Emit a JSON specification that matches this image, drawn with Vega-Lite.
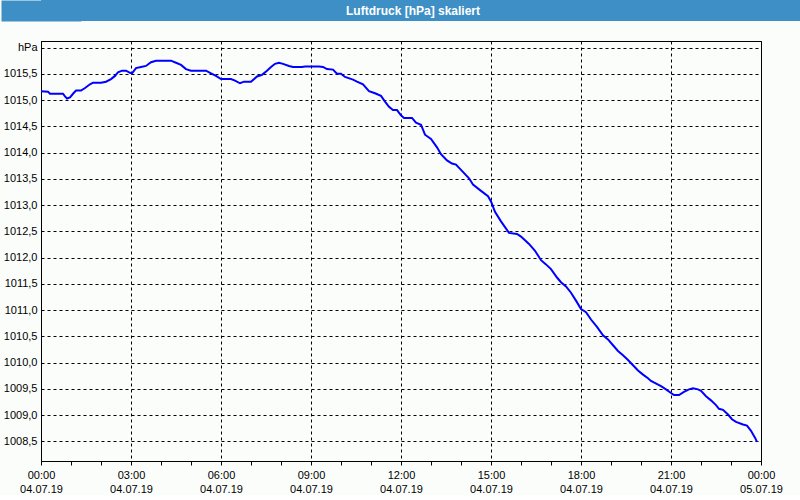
{
  "$schema": "https://vega.github.io/schema/vega-lite/v6.json",
  "background": "#fbfdfb",
  "padding": 0,
  "columns": 1,
  "align": "none",
  "spacing": 19,
  "config": {
    "font": "Liberation Sans",
    "view": {"stroke": null}
  },
  "concat": [
    {
      "width": 760,
      "height": 21,
      "data": {"values": [{"label": "Luftdruck [hPa] skaliert"}]},
      "layer": [
        {"mark": {"type": "rect", "color": "#3d8fc6"}, "encoding": {}},
        {
          "mark": {"type": "text", "color": "white", "fontWeight": "bold", "fontSize": 12, "baseline": "middle", "align": "center", "dx": -8},
          "encoding": {
            "text": {"field": "label", "type": "nominal"},
            "y": {
              "datum": 0.5, "type": "quantitative",
              "scale": {"domain": [0, 1], "nice": false, "zero": false},
              "axis": {"title": null, "labels": false, "ticks": false, "grid": false, "domainColor": "#3d8fc6", "domainWidth": 80, "minExtent": 40, "maxExtent": 40}
            }
          }
        }
      ]
    },
    {
      "width": 720,
      "height": 420,
      "view": {"stroke": "black", "strokeWidth": 1},
      "data": {"values": [
        {"h": 0, "p": 1015.17}, {"h": 0.233, "p": 1015.16}, {"h": 0.3, "p": 1015.12}, {"h": 0.733, "p": 1015.12},
        {"h": 0.8, "p": 1015.07}, {"h": 0.867, "p": 1015.03}, {"h": 0.967, "p": 1015.05}, {"h": 1.067, "p": 1015.12},
        {"h": 1.167, "p": 1015.18}, {"h": 1.333, "p": 1015.18}, {"h": 1.467, "p": 1015.23}, {"h": 1.633, "p": 1015.30},
        {"h": 1.733, "p": 1015.33}, {"h": 2, "p": 1015.33}, {"h": 2.167, "p": 1015.35}, {"h": 2.333, "p": 1015.40},
        {"h": 2.467, "p": 1015.46}, {"h": 2.567, "p": 1015.53}, {"h": 2.7, "p": 1015.56}, {"h": 2.833, "p": 1015.56},
        {"h": 2.967, "p": 1015.52}, {"h": 3.033, "p": 1015.51}, {"h": 3.167, "p": 1015.61}, {"h": 3.333, "p": 1015.63},
        {"h": 3.5, "p": 1015.65}, {"h": 3.667, "p": 1015.72}, {"h": 3.833, "p": 1015.75}, {"h": 4.333, "p": 1015.75},
        {"h": 4.5, "p": 1015.71}, {"h": 4.667, "p": 1015.67}, {"h": 4.833, "p": 1015.59}, {"h": 5, "p": 1015.56},
        {"h": 5.5, "p": 1015.56}, {"h": 5.667, "p": 1015.51}, {"h": 5.833, "p": 1015.46}, {"h": 6, "p": 1015.40},
        {"h": 6.333, "p": 1015.40}, {"h": 6.467, "p": 1015.37}, {"h": 6.633, "p": 1015.32}, {"h": 6.767, "p": 1015.35},
        {"h": 7, "p": 1015.35}, {"h": 7.2, "p": 1015.45}, {"h": 7.367, "p": 1015.48}, {"h": 7.533, "p": 1015.56},
        {"h": 7.667, "p": 1015.63}, {"h": 7.8, "p": 1015.69}, {"h": 7.933, "p": 1015.71}, {"h": 8.067, "p": 1015.69},
        {"h": 8.267, "p": 1015.65}, {"h": 8.4, "p": 1015.63}, {"h": 8.7, "p": 1015.63}, {"h": 8.8, "p": 1015.64},
        {"h": 9.267, "p": 1015.64}, {"h": 9.4, "p": 1015.63}, {"h": 9.533, "p": 1015.59}, {"h": 9.733, "p": 1015.58},
        {"h": 9.867, "p": 1015.50}, {"h": 10, "p": 1015.50}, {"h": 10.133, "p": 1015.44}, {"h": 10.4, "p": 1015.39},
        {"h": 10.533, "p": 1015.35}, {"h": 10.733, "p": 1015.30}, {"h": 10.933, "p": 1015.17}, {"h": 11.133, "p": 1015.13},
        {"h": 11.333, "p": 1015.08}, {"h": 11.467, "p": 1014.97}, {"h": 11.6, "p": 1014.87}, {"h": 11.733, "p": 1014.81},
        {"h": 11.867, "p": 1014.81}, {"h": 12, "p": 1014.71}, {"h": 12.1, "p": 1014.66}, {"h": 12.367, "p": 1014.66},
        {"h": 12.5, "p": 1014.57}, {"h": 12.667, "p": 1014.53}, {"h": 12.8, "p": 1014.34}, {"h": 13, "p": 1014.26},
        {"h": 13.2, "p": 1014.10}, {"h": 13.333, "p": 1013.97}, {"h": 13.533, "p": 1013.85}, {"h": 13.7, "p": 1013.79},
        {"h": 13.833, "p": 1013.77}, {"h": 14, "p": 1013.67}, {"h": 14.267, "p": 1013.51}, {"h": 14.4, "p": 1013.39},
        {"h": 14.667, "p": 1013.27}, {"h": 14.9, "p": 1013.17}, {"h": 15, "p": 1013.07}, {"h": 15.133, "p": 1012.87},
        {"h": 15.333, "p": 1012.69}, {"h": 15.6, "p": 1012.47}, {"h": 15.867, "p": 1012.45}, {"h": 16, "p": 1012.40},
        {"h": 16.267, "p": 1012.26}, {"h": 16.467, "p": 1012.13}, {"h": 16.667, "p": 1011.95}, {"h": 16.833, "p": 1011.87},
        {"h": 17, "p": 1011.78}, {"h": 17.2, "p": 1011.62}, {"h": 17.333, "p": 1011.53}, {"h": 17.5, "p": 1011.45},
        {"h": 17.667, "p": 1011.33}, {"h": 17.833, "p": 1011.18}, {"h": 18, "p": 1011.02}, {"h": 18.167, "p": 1010.96},
        {"h": 18.333, "p": 1010.82}, {"h": 18.533, "p": 1010.68}, {"h": 18.733, "p": 1010.52}, {"h": 18.9, "p": 1010.44},
        {"h": 19.067, "p": 1010.33}, {"h": 19.233, "p": 1010.22}, {"h": 19.4, "p": 1010.14}, {"h": 19.567, "p": 1010.05},
        {"h": 19.733, "p": 1009.95}, {"h": 19.9, "p": 1009.85}, {"h": 20.067, "p": 1009.77}, {"h": 20.233, "p": 1009.70},
        {"h": 20.333, "p": 1009.65}, {"h": 20.667, "p": 1009.55}, {"h": 20.833, "p": 1009.49}, {"h": 21, "p": 1009.42},
        {"h": 21.1, "p": 1009.38}, {"h": 21.267, "p": 1009.38}, {"h": 21.433, "p": 1009.44}, {"h": 21.6, "p": 1009.49},
        {"h": 21.733, "p": 1009.51}, {"h": 21.9, "p": 1009.49}, {"h": 22, "p": 1009.46}, {"h": 22.167, "p": 1009.36},
        {"h": 22.333, "p": 1009.28}, {"h": 22.5, "p": 1009.19}, {"h": 22.6, "p": 1009.12}, {"h": 22.733, "p": 1009.10},
        {"h": 22.9, "p": 1009.01}, {"h": 23.033, "p": 1008.92}, {"h": 23.167, "p": 1008.87}, {"h": 23.4, "p": 1008.82},
        {"h": 23.533, "p": 1008.80}, {"h": 23.667, "p": 1008.70}, {"h": 23.8, "p": 1008.57}, {"h": 23.867, "p": 1008.49}
      ]},
      "mark": {"type": "line", "color": "#0000ff", "strokeWidth": 2},
      "encoding": {
        "x": {
          "field": "h", "type": "quantitative",
          "scale": {"domain": [0, 24], "nice": false, "zero": false},
          "axis": {
            "title": null,
            "values": [0, 1, 2, 3, 4, 5, 6, 7, 8, 9, 10, 11, 12, 13, 14, 15, 16, 17, 18, 19, 20, 21, 22, 23, 24],
            "labelExpr": "datum.value % 3 == 0 ? [((datum.value % 24) < 10 ? '0' : '') + (datum.value % 24) + ':00', datum.value == 24 ? '05.07.19' : '04.07.19'] : ''",
            "labelOverlap": false,
            "labelFlush": false,
            "labelFontSize": 11,
            "labelColor": "black",
            "labelLineHeight": 14,
            "labelPadding": 4,
            "tickColor": "black",
            "tickSize": 4,
            "domainColor": "black",
            "grid": true,
            "gridColor": "black",
            "gridDash": [3, 3],
            "gridOpacity": {"condition": {"test": "datum.value % 3 != 0", "value": 0}, "value": 1}
          }
        },
        "y": {
          "field": "p", "type": "quantitative",
          "scale": {"domain": [1008.125, 1016.125], "nice": false, "zero": false},
          "axis": {
            "title": null,
            "values": [1008.5, 1009, 1009.5, 1010, 1010.5, 1011, 1011.5, 1012, 1012.5, 1013, 1013.5, 1014, 1014.5, 1015, 1015.5, 1016],
            "labelExpr": "datum.value >= 1016 ? 'hPa' : floor(datum.value) + ',' + (datum.value % 1 == 0 ? '0' : '5')",
            "labelFontSize": 11,
            "labelColor": "black",
            "labelPadding": 4,
            "ticks": false,
            "domainColor": "black",
            "gridColor": "black",
            "gridDash": [3, 3],
            "minExtent": 40,
            "maxExtent": 40
          }
        }
      }
    }
  ]
}
